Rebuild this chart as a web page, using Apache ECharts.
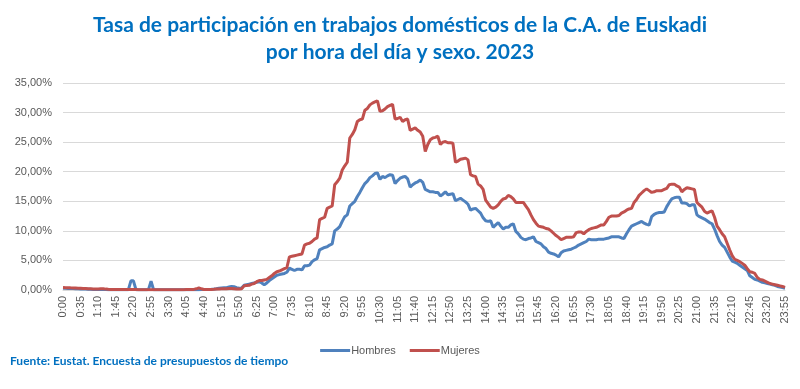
<!DOCTYPE html>
<html>
<head>
<meta charset="utf-8">
<script src="https://cdn.jsdelivr.net/npm/echarts@6/dist/echarts.min.js"></script>
<style>
html,body{margin:0;padding:0;background:#fff;}
#chart{width:800px;height:389px;}
</style>
</head>
<body>
<div id="chart"></div>
<script>
var titleText = 'Tasa de participación en trabajos domésticos de la C.A. de Euskadi\npor hora del día y sexo. 2023';
var sourceText = 'Fuente: Eustat. Encuesta de presupuestos de tiempo';
var seriesNames = ['Hombres', 'Mujeres'];

// categories: every 5 minutes, 0:00 .. 23:55
var categories = [];
for (var h = 0; h < 24; h++) {
  for (var m = 0; m < 60; m += 5) {
    categories.push(h + ':' + (m < 10 ? '0' + m : m));
  }
}

var hombres = [
  0.30,0.28,0.27,0.25,0.25,0.22,0.20,0.18,0.17,0.15,0.13,0.12,
  0.10,0.10,0.08,0.08,0.07,0.07,0.06,0.06,0.05,0.05,0.05,0.05,
  0.05,0.05,0.05,1.55,1.55,0.05,0.05,0.05,0.05,0.05,0.10,1.50,
  0.05,0.03,0.03,0.03,0.03,0.03,0.03,0.03,0.03,0.03,0.03,0.03,
  0.03,0.03,0.04,0.05,0.05,0.06,0.06,0.08,0.08,0.10,0.10,0.12,
  0.15,0.20,0.30,0.35,0.40,0.40,0.50,0.60,0.55,0.40,0.30,0.35,
  0.8,0.9,1.0,1.1,1.2,1.3,1.4,1.2,0.9,1.2,1.6,1.9,
  2.2,2.5,2.6,2.7,2.8,3.0,3.7,3.5,3.3,3.5,3.5,3.4,
  4.1,4.1,4.2,4.8,5.1,5.3,6.8,7.0,7.2,7.3,7.6,7.8,
  10.0,10.3,10.7,11.6,12.4,12.7,14.2,14.6,15.0,15.8,16.5,17.3,
  18.0,18.4,19.0,19.3,19.7,19.8,18.7,19.2,19.0,19.3,19.5,19.4,
  18.0,18.5,18.9,19.1,19.2,18.8,17.4,17.8,18.1,18.3,18.6,18.2,
  17.0,16.8,16.6,16.6,16.5,16.5,15.9,16.2,16.6,16.1,16.2,16.3,
  15.1,15.3,15.5,15.2,14.9,14.5,13.5,13.7,13.8,13.4,13.0,12.2,
  11.7,11.6,11.7,10.6,11.0,11.4,10.8,10.3,10.6,10.6,11.0,11.2,
  9.9,9.5,8.9,8.6,8.5,8.7,8.8,9.0,8.2,8.0,7.8,7.3,
  7.0,6.4,6.2,6.1,5.9,5.6,6.3,6.6,6.7,6.8,6.9,7.1,
  7.3,7.6,7.8,8.0,8.2,8.6,8.5,8.5,8.5,8.6,8.6,8.6,
  8.7,8.8,9.0,9.0,9.0,9.0,8.8,8.7,9.5,10.2,10.8,11.0,
  11.2,11.4,11.6,11.3,11.1,11.0,12.4,12.8,13.0,13.1,13.1,13.2,
  14.1,14.8,15.4,15.6,15.7,15.7,14.7,14.7,14.6,14.2,14.4,14.4,
  12.7,12.4,12.2,12.0,11.7,11.4,11.2,10.3,9.2,8.2,7.6,7.2,
  6.4,5.6,4.9,4.7,4.5,4.2,3.9,3.6,3.3,2.4,2.1,1.8,
  1.7,1.5,1.3,1.2,1.1,1.0,0.9,0.8,0.6,0.5,0.4,0.3
];

var mujeres = [
  0.42,0.40,0.38,0.36,0.35,0.33,0.30,0.28,0.26,0.25,0.22,0.20,
  0.18,0.15,0.15,0.20,0.22,0.15,0.12,0.10,0.10,0.08,0.08,0.08,
  0.08,0.07,0.07,0.07,0.07,0.07,0.06,0.06,0.06,0.06,0.06,0.06,
  0.05,0.05,0.05,0.05,0.05,0.05,0.05,0.05,0.05,0.05,0.06,0.06,
  0.06,0.07,0.08,0.08,0.10,0.20,0.35,0.20,0.08,0.08,0.10,0.10,
  0.12,0.15,0.18,0.20,0.22,0.22,0.25,0.25,0.22,0.18,0.15,0.20,
  0.7,0.75,0.8,1.0,1.1,1.4,1.6,1.6,1.7,1.8,2.1,2.4,
  2.8,3.1,3.2,3.4,3.6,3.8,5.6,5.7,5.8,5.9,6.0,6.1,
  7.6,7.8,7.9,8.2,8.6,8.8,11.9,12.1,12.3,13.8,14.0,14.2,
  17.8,18.3,18.9,20.3,21.0,21.6,25.7,26.3,27.1,28.5,28.8,28.9,
  30.4,30.7,31.3,31.6,31.8,32.0,30.2,30.3,30.6,31.0,31.2,31.4,
  28.9,29.0,29.2,28.5,28.8,28.9,27.0,27.2,27.4,27.0,26.7,26.0,
  23.4,24.6,25.4,25.7,25.8,26.0,24.6,25.0,25.1,24.9,24.9,24.8,
  21.6,21.8,22.1,22.2,22.3,22.0,19.5,19.3,19.2,17.9,17.6,17.0,
  15.2,14.6,14.0,13.8,14.0,14.4,15.0,15.4,15.5,16.0,15.8,15.4,
  14.8,14.8,14.8,14.8,14.2,13.6,12.7,11.9,11.3,10.8,10.7,10.6,
  10.4,10.3,10.0,9.6,9.2,8.9,8.5,8.7,8.9,8.9,8.9,9.0,
  9.7,9.8,9.8,9.5,9.9,10.2,10.4,10.5,10.6,10.8,11.0,11.0,
  11.6,12.3,12.5,12.5,12.5,12.6,13.0,13.2,13.5,13.7,13.8,14.8,
  15.3,16.0,16.4,16.8,17.1,16.8,16.5,16.6,16.8,16.8,16.8,17.0,
  17.2,17.8,17.9,17.9,17.6,17.4,16.6,17.0,17.3,17.2,17.1,17.0,
  14.8,14.4,14.0,13.3,13.0,13.2,13.4,12.3,10.8,10.2,9.5,9.0,
  7.9,6.8,5.8,5.2,5.0,4.8,4.5,4.2,3.6,3.1,3.0,2.8,
  2.1,1.8,1.7,1.5,1.3,1.1,1.0,0.9,0.8,0.7,0.6,0.45
];

var yMin = 0, yMax = 35, yStep = 5;

var chart = echarts.init(document.getElementById('chart'), null, {renderer: 'canvas'});
var labelColor = '#595959';
chart.setOption({
  animation: false,
  backgroundColor: '#ffffff',
  title: [{
    text: titleText,
    left: 'center',
    top: 7,
    textStyle: {fontFamily: 'Lato', fontWeight: 'bold', fontSize: 21, color: '#0070C0', lineHeight: 27}
  }, {
    text: sourceText,
    left: 5,
    top: 350,
    textStyle: {fontFamily: 'Lato', fontWeight: 'bold', fontSize: 12, color: '#0070C0'}
  }],
  legend: {
    data: seriesNames,
    left: 'center',
    top: 340,
    itemWidth: 30,
    itemHeight: 3,
    itemGap: 14,
    icon: 'rect',
    textStyle: {fontFamily: 'Liberation Sans', fontSize: 11, color: labelColor, padding: [0,0,0,-4]}
  },
  grid: {left: 63, right: 15, top: 83, bottom: 99, containLabel: false},
  xAxis: {
    type: 'category',
    data: categories,
    boundaryGap: false,
    axisLine: {show: true, lineStyle: {color: '#d9d9d9', width: 1}},
    axisTick: {show: false},
    axisLabel: {
      interval: 6,
      rotate: 90,
      fontFamily: 'Liberation Sans',
      fontSize: 11,
      color: labelColor,
      margin: 6
    },
    splitLine: {show: false}
  },
  yAxis: {
    type: 'value',
    min: yMin,
    max: yMax,
    interval: yStep,
    axisLine: {show: false},
    axisTick: {show: false},
    axisLabel: {
      fontFamily: 'Liberation Sans',
      fontSize: 11,
      color: labelColor,
      margin: 11,
      formatter: function (v) { return v.toFixed(2).replace('.', ',') + '%'; }
    },
    splitLine: {lineStyle: {color: '#d9d9d9', width: 1}}
  },
  series: [{
    name: seriesNames[0],
    type: 'line',
    data: hombres,
    symbol: 'none',
    lineStyle: {color: '#4F81BD', width: 3},
    itemStyle: {color: '#4F81BD'}
  }, {
    name: seriesNames[1],
    type: 'line',
    data: mujeres,
    symbol: 'none',
    lineStyle: {color: '#C0504D', width: 3},
    itemStyle: {color: '#C0504D'}
  }]
});
</script>
</body>
</html>
